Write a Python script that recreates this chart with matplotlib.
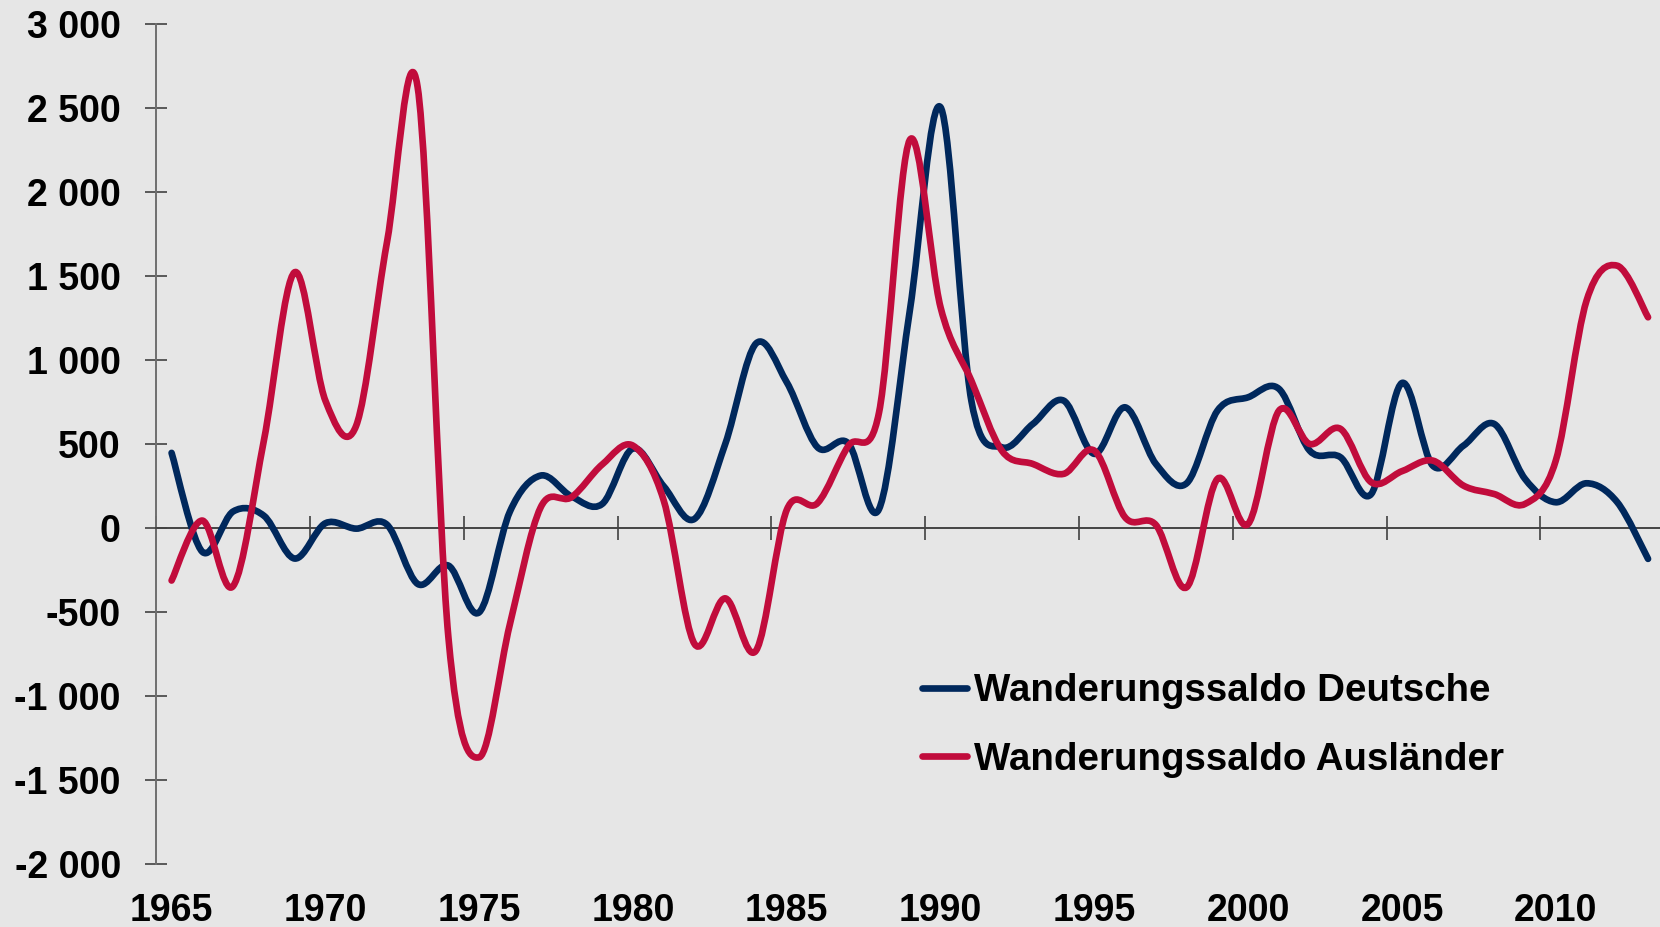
import numpy as np
import matplotlib
matplotlib.use("Agg")
import matplotlib.pyplot as plt
from matplotlib.path import Path
from matplotlib.patches import PathPatch
from matplotlib.lines import Line2D

years = list(range(1965, 2014))
deutsche = [449, -140, 100, 75, -180, 30, -2, 22, -331, -222,
            -500, 100, 314, 190, 145, 475, 250, 56, 502, 1100,
            869, 482, 506, 115, 1296, 2506, 760, 482, 621, 760,
            443, 720, 383, 268, 700, 780, 830, 462, 423, 204,
            865, 373, 492, 621, 294, 155, 268, 155, -182]
auslaender = [-311, 46, -344, 522, 1524, 760, 610, 1700, 2625, -650,
              -1363, -570, 125, 185, 380, 492, 165, -688, -417, -728,
              110, 150, 490, 690, 2312, 1315, 879, 460, 383, 324,
              462, 65, 20, -351, 294, 26, 700, 502, 592, 274,
              340, 403, 254, 204, 145, 403, 1355, 1563, 1256]
series_names = ["Wanderungssaldo Deutsche", "Wanderungssaldo Ausländer"]
series_colors = ["#00285C", "#C10C3C"]
ytick_vals = [-2000, -1500, -1000, -500, 0, 500, 1000, 1500, 2000, 2500, 3000]
xlabel_years = [1965, 1970, 1975, 1980, 1985, 1990, 1995, 2000, 2005, 2010]

BG = "#E6E6E6"
FONT = "Liberation Sans"
FS = 27
LEG_FS = 27.7

plt.rcParams['font.family'] = [FONT, 'DejaVu Sans']
plt.rcParams['font.weight'] = 'bold'


def smooth_path(x, y):
    """Excel-like smoothed line: cubic Bezier through every data point."""
    x = np.asarray(x, float)
    y = np.asarray(y, float)
    n = len(x)
    verts = [(x[0], y[0])]
    codes = [Path.MOVETO]
    for i in range(n - 1):
        p0 = np.array([x[max(i - 1, 0)], y[max(i - 1, 0)]])
        p1 = np.array([x[i], y[i]])
        p2 = np.array([x[i + 1], y[i + 1]])
        p3 = np.array([x[min(i + 2, n - 1)], y[min(i + 2, n - 1)]])
        c1 = p1 + (p2 - p0) / 6.0
        c2 = p2 - (p3 - p1) / 6.0
        verts += [tuple(c1), tuple(c2), tuple(p2)]
        codes += [Path.CURVE4] * 3
    return Path(verts, codes)


fig = plt.figure(figsize=(16.6, 9.27), dpi=100, facecolor=BG)
ax_left = 156.2 / 1660
ax_bottom = (927 - 864.3) / 927
ax_top = (927 - 24.3) / 927
ax = fig.add_axes([ax_left, ax_bottom, 1.0 - ax_left, ax_top - ax_bottom])
ax.set_facecolor(BG)

px_per_year = 30.76
x0 = years[0] - 0.5
ax.set_xlim(x0, x0 + (1660 - 156.2) / px_per_year)
ax.set_ylim(-2000, 3000)

lw = 4.8
for vals, col in zip([deutsche, auslaender], series_colors):
    patch = PathPatch(smooth_path(years, vals), facecolor='none', edgecolor=col,
                      lw=lw, capstyle='round', joinstyle='round', zorder=3)
    ax.add_patch(patch)

# spines
for s in ['top', 'right']:
    ax.spines[s].set_visible(False)
ax.spines['left'].set_color('#6E6E6E')
ax.spines['left'].set_linewidth(1.4)
ax.spines['bottom'].set_position(('data', 0))
ax.spines['bottom'].set_color('#444444')
ax.spines['bottom'].set_linewidth(1.4)

# y ticks
ax.set_yticks(ytick_vals)
ax.set_yticklabels([("-" if v < 0 else "") + f"{abs(v):,}".replace(",", " ") for v in ytick_vals],
                   fontsize=FS, fontweight='bold', fontfamily=FONT)
ax.tick_params(axis='y', direction='inout', length=16, width=1.1, color='#333333', pad=17.5)

# x tick marks on zero line at category boundaries, no labels
ax.set_xticks([y - 0.5 for y in xlabel_years])
ax.set_xticklabels([])
ax.tick_params(axis='x', direction='inout', length=17, width=1.1, color='#333333')

# x labels at the bottom, centred on the categories
sec = ax.secondary_xaxis(0.0)
sec.set_xticks(xlabel_years)
sec.set_xticklabels([str(y) for y in xlabel_years], fontsize=FS, fontweight='bold', fontfamily=FONT)
sec.tick_params(axis='x', length=0, pad=21)
sec.spines['bottom'].set_visible(False)

handles = [Line2D([], [], color=c, lw=lw, solid_capstyle='round') for c in series_colors]
leg = fig.legend(handles, series_names, loc='upper left',
                 bbox_to_anchor=(922.3 / 1660, (927 - 673) / 927),
                 frameon=False, borderpad=0, borderaxespad=0,
                 handlelength=1.17, handletextpad=0.18, labelspacing=0.85,
                 prop={'family': FONT, 'weight': 'bold', 'size': LEG_FS})

fig.savefig("out.png", dpi=100, facecolor=BG)
